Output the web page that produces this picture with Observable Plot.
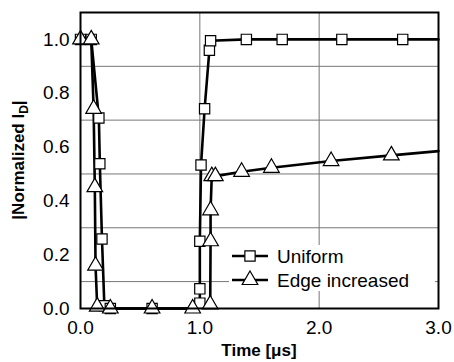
<!DOCTYPE html>
<html>
<head>
<meta charset="utf-8">
<script src="https://cdn.jsdelivr.net/npm/d3@7"></script>
<script src="https://cdn.jsdelivr.net/npm/@observablehq/plot@0.6"></script>
<style>
  html, body { margin: 0; padding: 0; background: #fff; }
  svg { font-family: "Liberation Sans", Arial, sans-serif; }
</style>
</head>
<body>
<div id="chart"></div>
<script>
// Uniform (squares)
const uniformT = [0.0, 0.09, 0.154, 0.162, 0.18, 0.2, 0.25, 0.6, 0.94, 1.0, 1.0, 1.0, 1.01, 1.04, 1.08, 1.09, 1.39, 1.69, 2.19, 2.70, 3.0];
const uniformV = [1.0, 1.0, 0.708, 0.538, 0.258, 0.01, 0.0, 0.0, 0.0, 0.02, 0.073, 0.25, 0.533, 0.742, 0.96, 0.995, 1.0, 1.0, 1.0, 1.0, 1.0];
const uniformMarked = [1,1,1,1,1,1,1,1,0,1,1,1,1,1,1,1,1,1,1,1,0];

// Edge increased (triangles)
const edgeT = [0.0, 0.09, 0.11, 0.12, 0.126, 0.14, 0.25, 0.6, 0.94, 1.087, 1.09, 1.09, 1.1, 1.13, 1.35, 1.60, 2.10, 2.605, 3.0];
const edgeV = [1.0, 1.0, 0.742, 0.451, 0.159, 0.007, 0.0, 0.0, 0.0, 0.015, 0.25, 0.365, 0.492, 0.492, 0.508, 0.523, 0.548, 0.569, 0.585];
const edgeMarked = [1,1,1,1,1,1,1,1,1,1,1,1,1,1,1,1,1,1,0];

const xTicks = [0, 1, 2, 3];
const yTicks = [0, 0.2, 0.4, 0.6, 0.8, 1.0];
const xGrid = [1, 2];
const yGrid = [0.1, 0.3, 0.5, 0.7, 0.9];
const seriesNames = ["Uniform", "Edge increased"];

const uniform = uniformT.map((t, i) => ({t, v: uniformV[i], m: uniformMarked[i]}));
const edge = edgeT.map((t, i) => ({t, v: edgeV[i], m: edgeMarked[i]}));

const plot = Plot.plot({
  width: 454,
  height: 362,
  marginLeft: 80,
  marginRight: 16,
  marginTop: 12,
  marginBottom: 54,
  style: {fontFamily: "Liberation Sans, Arial, sans-serif", background: "#fff"},
  x: {domain: [0, 3]},
  y: {domain: [0, 1.1]},
  marks: [
    Plot.ruleX(xGrid, {stroke: "#777", strokeWidth: 1}),
    Plot.ruleY(yGrid, {stroke: "#777", strokeWidth: 1}),
    Plot.line(uniform, {x: "t", y: "v", stroke: "#000", strokeWidth: 2.6}),
    Plot.line(edge, {x: "t", y: "v", stroke: "#000", strokeWidth: 2.6}),
    Plot.dot(uniform.filter(d => d.m), {x: "t", y: "v", symbol: "square", r: 5.8, fill: "#fff", stroke: "#000", strokeWidth: 1.2}),
    Plot.dot(edge.filter(d => d.m), {x: "t", y: "v", symbol: "triangle", r: 5.8, fill: "#fff", stroke: "#000", strokeWidth: 1.2}),
    Plot.frame({stroke: "#000", strokeWidth: 2}),
    Plot.axisX({ticks: xTicks, tickFormat: d3.format(".1f"), tickSize: 0, tickPadding: 12, fontSize: 19, label: null, color: "#000"}),
    Plot.axisY({ticks: yTicks, tickFormat: d3.format(".1f"), tickSize: 0, tickPadding: 11, fontSize: 19, label: null, color: "#000"})
  ]
});

document.getElementById("chart").appendChild(plot);

const svg = d3.select(plot);
svg.selectAll("text").attr("fill", "#000");

// x axis label
svg.append("text")
  .attr("x", 259).attr("y", 356)
  .attr("text-anchor", "middle")
  .attr("font-size", 17).attr("font-weight", "bold").attr("fill", "#000")
  .text("Time [μs]");

// y axis label with subscript
const yl = svg.append("text")
  .attr("transform", "translate(24,160) rotate(-90)")
  .attr("text-anchor", "middle")
  .attr("font-size", 17).attr("font-weight", "bold").attr("fill", "#000");
yl.append("tspan").text("|Normalized I");
yl.append("tspan").attr("font-size", 12).attr("dy", 4).text("D");
yl.append("tspan").attr("dy", -4).text("|");

// legend
const lg = svg.append("g").attr("text-anchor", "start");
lg.append("rect").attr("x", 229).attr("y", 245).attr("width", 206).attr("height", 46)
  .attr("fill", "#fff").attr("stroke", "none");
const syms = [d3.symbolSquare, d3.symbolTriangle];
seriesNames.forEach((name, i) => {
  const y = 256 + i * 24;
  lg.append("line").attr("x1", 232).attr("x2", 268).attr("y1", y).attr("y2", y)
    .attr("stroke", "#000").attr("stroke-width", 2.6);
  lg.append("path").attr("d", d3.symbol(syms[i], Math.PI * 5.8 * 5.8)())
    .attr("transform", `translate(250,${y})`)
    .attr("fill", "#fff").attr("stroke", "#000").attr("stroke-width", 1.2);
  lg.append("text").attr("x", 277).attr("y", y).attr("dy", "0.35em")
    .attr("text-anchor", "start")
    .attr("font-size", 19).attr("fill", "#000").text(name);
});
</script>
</body>
</html>
